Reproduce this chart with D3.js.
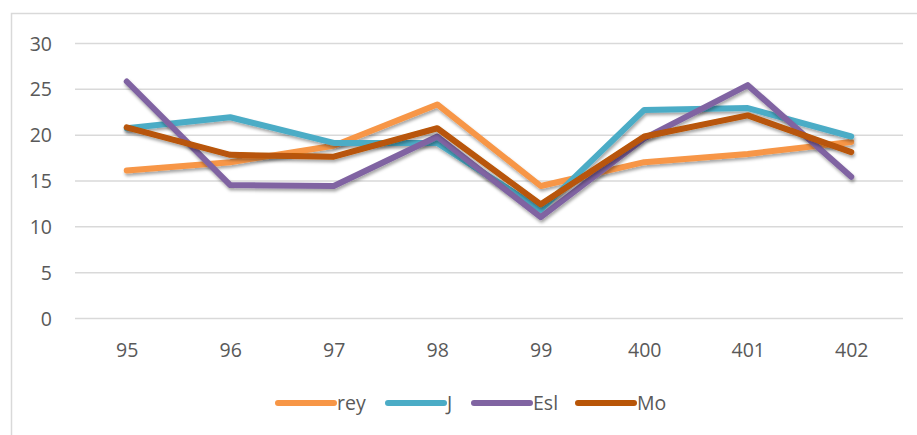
<!DOCTYPE html>
<html><head><meta charset="utf-8">
<script src="https://cdn.jsdelivr.net/npm/d3@7"></script>
<style>body{margin:0;background:#fff}svg{display:block}</style>
</head><body>
<svg id="c" width="917" height="435"></svg>
<script>
const categories = ["95","96","97","98","99","400","401","402"];
const seriesNames = ["rey","J","Esl","Mo"];
const rey = [16.1, 17.0, 18.8, 23.3, 14.4, 17.0, 17.9, 19.2];
const J   = [20.7, 21.9, 19.1, 19.1, 11.8, 22.7, 22.9, 19.8];
const Esl = [25.8, 14.5, 14.4, 19.8, 11.0, 19.6, 25.4, 15.4];
const Mo  = [20.8, 17.8, 17.6, 20.7, 12.4, 19.8, 22.1, 18.1];
const yTicks = [0,5,10,15,20,25,30];
const colors = ["#F79646","#4BACC6","#8064A2","#B85507"];
const seriesValues = [rey, J, Esl, Mo];

const svg = d3.select("#c");
const font = "'Open Sans', 'Liberation Sans', sans-serif";
const textColor = "#595959";
const fs = "19.5px";

svg.append("rect").attr("x",11.5).attr("y",13.5).attr("width",930).attr("height",450)
  .attr("fill","none").attr("stroke","#d9d9d9").attr("stroke-width",1.5);

const defs = svg.append("defs");
const f = defs.append("filter").attr("id","sh").attr("x","-10%").attr("y","-10%").attr("width","120%").attr("height","130%");
f.append("feDropShadow").attr("dx",1).attr("dy",2.5).attr("stdDeviation",1.6).attr("flood-color","#000").attr("flood-opacity",0.35);

const x = d3.scalePoint().domain(categories).range([75, 903]).padding(0.5);
const y = d3.scaleLinear().domain([0,30]).range([318, 43]);

const yAxis = d3.axisLeft(y).tickValues(yTicks).tickSize(-(903-75));
const gy = svg.append("g").attr("transform","translate(75,0)").call(yAxis);
gy.select(".domain").remove();
gy.selectAll(".tick line").attr("stroke","#d9d9d9").attr("stroke-width",1.5);
gy.selectAll(".tick text").attr("fill",textColor).style("font-family",font).style("font-size",fs)
  .attr("x",-23).attr("dy","0.36em");

const xAxis = d3.axisBottom(x).tickSize(0);
const gx = svg.append("g").attr("transform","translate(0,318)").call(xAxis);
gx.select(".domain").remove();
gx.selectAll(".tick text").attr("fill",textColor).style("font-family",font).style("font-size",fs)
  .attr("y",32).attr("dy","0.36em");

const line = d3.line().x((d,i)=>x(categories[i])).y(d=>y(d));
seriesValues.forEach((vals,k)=>{
  svg.append("path").datum(vals).attr("d",line).attr("fill","none")
    .attr("stroke",colors[k]).attr("stroke-width",6).attr("stroke-linejoin","round").attr("stroke-linecap","round")
    .attr("filter","url(#sh)");
});

const legX = [278, 388, 474, 578];
const lg = svg.append("g");
seriesNames.forEach((n,k)=>{
  lg.append("line").attr("x1",legX[k]).attr("x2",legX[k]+56).attr("y1",403).attr("y2",403)
    .attr("stroke",colors[k]).attr("stroke-width",6).attr("stroke-linecap","round");
  lg.append("text").attr("x",legX[k]+59).attr("y",403).attr("dy","0.36em")
    .attr("fill",textColor).style("font-family",font).style("font-size",fs).text(n);
});
</script>
</body></html>
